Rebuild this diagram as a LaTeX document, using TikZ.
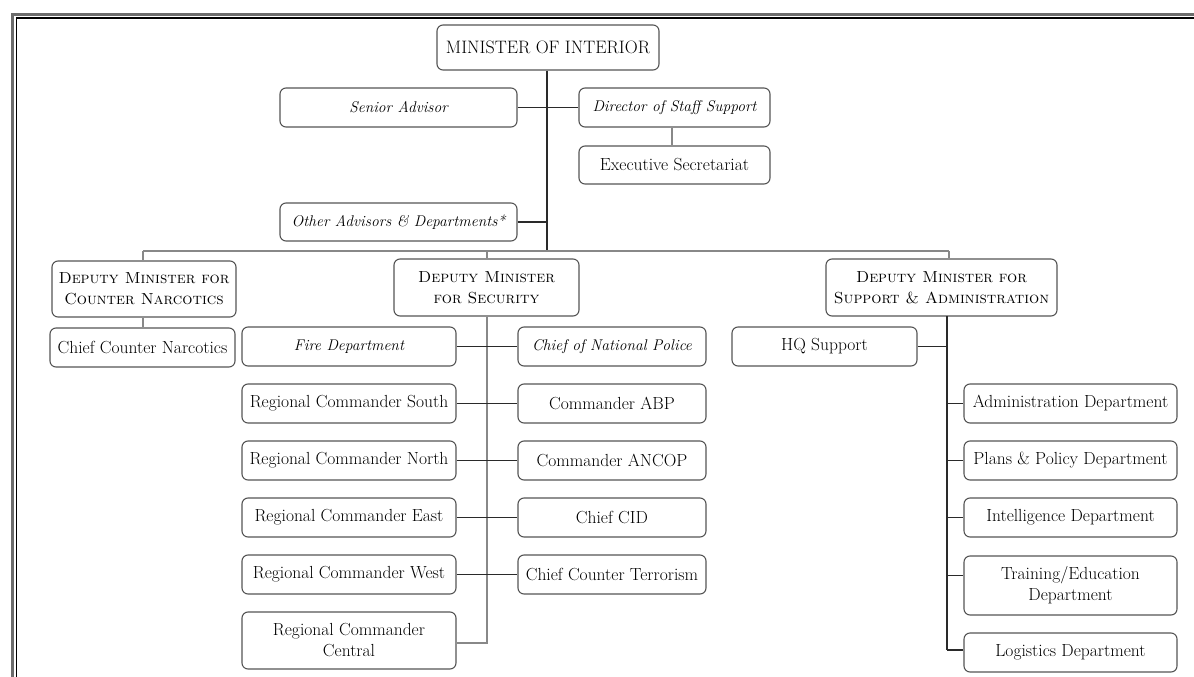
\documentclass[tikz,border=0pt]{standalone}
\usetikzlibrary{calc}
\definecolor{boxgray}{HTML}{555555}
\definecolor{lngray}{HTML}{888888}
\definecolor{lndark}{HTML}{2a2a2a}
\begin{document}
\begin{tikzpicture}[x=1pt,y=-1pt,
  box/.style={draw=boxgray, rounded corners=6pt, line width=1.1pt, align=center,
    inner sep=1pt, font=\fontsize{17.5}{21}\selectfont, minimum height=39pt},
  itbox/.style={box, font=\fontsize{15.5}{19}\selectfont\itshape},
  scbox/.style={box, font=\fontsize{16}{21}\selectfont\scshape},
  conn/.style={draw=lndark, line width=1.2pt},
  connl/.style={draw=lngray, line width=1.2pt}]
\useasboundingbox (0,0) rectangle (1194,677);
\fill[white] (0,0) rectangle (1194,677);
% frame
\begin{scope}
\clip (0,0) rectangle (1194,677);
\draw[draw=gray!85!black, line width=3.5pt] (12.5,700) -- (12.5,14.5) -- (1220,14.5);
\draw[draw=black, line width=1.6pt] (16.6,700) -- (16.6,18.2) -- (1220,18.2);
\end{scope}
% top
\node[box, minimum width=222pt, minimum height=45pt, font=\fontsize{18}{21}\selectfont] (min) at (548,47.5) {MINISTER OF INTERIOR};
\node[itbox, minimum width=237pt] (sa) at (398.5,107.5) {Senior Advisor};
\node[itbox, minimum width=191pt] (dss) at (674.5,107.5) {Director of Staff Support};
\node[box, minimum width=191pt, minimum height=38pt] (es) at (674.5,165) {Executive Secretariat};
\node[itbox, minimum width=237pt, minimum height=38pt] (oad) at (398.5,222) {Other Advisors \& Departments*};
% deputies
\node[scbox, minimum width=184pt, minimum height=56pt] (dmcn) at (144,289) {Deputy Minister for\\Counter Narcotics};
\node[box, minimum width=185pt] (ccn) at (142.5,347.5) {Chief Counter Narcotics};
\node[scbox, minimum width=185pt, minimum height=57pt] (dms) at (486.5,287.5) {Deputy Minister\\for Security};
\node[scbox, minimum width=231pt, minimum height=57pt] (dmsa) at (941.5,287.5) {Deputy Minister for\\Support \& Administration};
% security
\node[itbox, minimum width=214pt] (fire) at (349,346.5) {Fire Department};
\node[itbox, minimum width=188pt] (cnp) at (612,346.5) {Chief of National Police};
\node[box, minimum width=214pt] (rcs) at (349,403.5) {Regional Commander South};
\node[box, minimum width=188pt] (abp) at (612,403.5) {Commander ABP};
\node[box, minimum width=214pt] (rcn) at (349,460.5) {Regional Commander North};
\node[box, minimum width=188pt] (ancop) at (612,460.5) {Commander ANCOP};
\node[box, minimum width=214pt] (rce) at (349,517.5) {Regional Commander East};
\node[box, minimum width=188pt] (cid) at (612,517.5) {Chief CID};
\node[box, minimum width=214pt] (rcw) at (349,574.5) {Regional Commander West};
\node[box, minimum width=188pt] (cct) at (612,574.5) {Chief Counter Terrorism};
\node[box, minimum width=214pt, minimum height=57pt] (rcc) at (349,640.5) {Regional Commander\\Central};
% support
\node[box, minimum width=185pt] (hq) at (824.5,346.5) {HQ Support};
\node[box, minimum width=213pt] (adm) at (1070.5,403.5) {Administration Department};
\node[box, minimum width=213pt] (ppd) at (1070.5,460.5) {Plans \& Policy Department};
\node[box, minimum width=213pt] (intd) at (1070.5,517.5) {Intelligence Department};
\node[box, minimum width=213pt, minimum height=59pt] (trn) at (1070.5,585.5) {Training/Education\\Department};
\node[box, minimum width=213pt] (log) at (1070.5,652.5) {Logistics Department};
% coordinates
\coordinate (busL) at (143,251);
\coordinate (busS) at (487,251);
\coordinate (busR) at (949,251);
\coordinate (tr) at (547,251);
\coordinate (secv) at (487,643);
\coordinate (supv) at (947,316);
% connectors
\draw[conn] (min.south -| tr) -- (tr);
\draw[connl] (busL) -- (busR);
\draw[connl] (busL) -- (busL |- dmcn.north);
\draw[connl] (busS) -- (busS |- dms.north);
\draw[connl] (busR) -- (busR |- dmsa.north);
\draw[conn] (sa.east) -- (dss.west);
\draw[conn] (oad.east) -- (oad.east -| tr);
\draw[connl] (dss.south -| 672,0) -- (es.north -| 672,0);
\draw[connl] (dmcn.south -| busL) -- (ccn.north -| busL);
% security
\draw[connl] (dms.south -| secv) -- (secv) -- (secv -| rcc.east);
\draw[conn] (fire.east) -- (cnp.west);
\draw[conn] (rcs.east) -- (abp.west);
\draw[conn] (rcn.east) -- (ancop.west);
\draw[conn] (rce.east) -- (cid.west);
\draw[conn] (rcw.east) -- (cct.west);
% support
\draw[conn] (supv) -- (supv |- 0,650);
\draw[conn] (hq.east) -- (hq.east -| supv);
\draw[conn] (adm.west -| supv) -- (adm.west);
\draw[conn] (ppd.west -| supv) -- (ppd.west);
\draw[conn] (intd.west -| supv) -- (intd.west);
\draw[conn] ($(trn.west -| supv)+(0,-10)$) -- ($(trn.west)+(0,-10)$);
\draw[conn] (0,650 -| supv) -- (0,650 -| log.west);
\end{tikzpicture}
\end{document}
